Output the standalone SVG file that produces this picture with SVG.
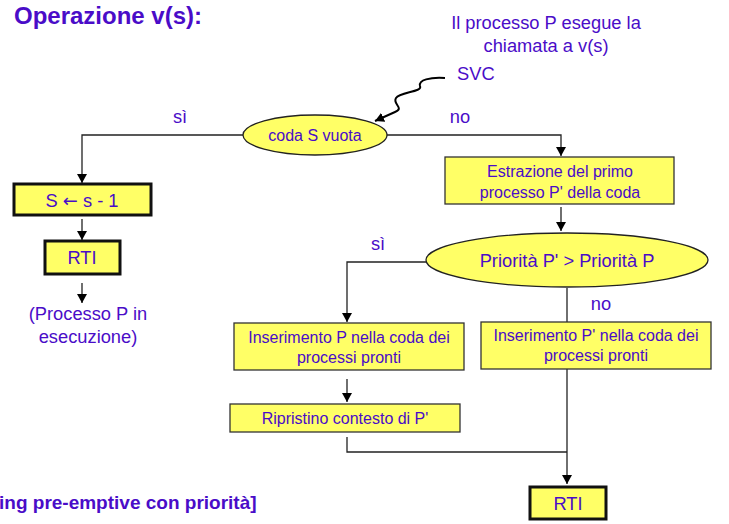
<svg xmlns="http://www.w3.org/2000/svg" width="729" height="524" viewBox="0 0 729 524">
<style>
text{font-family:"Liberation Sans",Arial,sans-serif;fill:#4A0CC8}
.t{font-size:16px;text-anchor:middle}
.m{font-size:18.3px;text-anchor:middle}
.box{fill:#FFFF66;stroke:#333;stroke-width:1.3}
.thick{fill:#FFFF66;stroke:#111;stroke-width:3}
.ell{fill:#FFFF66;stroke:#222;stroke-width:1.3}
.c{fill:none;stroke:#222;stroke-width:1.3}
</style>
<defs>
<marker id="ah" markerWidth="12" markerHeight="10" refX="9" refY="5" orient="auto" markerUnits="userSpaceOnUse">
<path d="M0,0 L9,5 L0,10 Z" fill="#000"/>
</marker>
</defs>
<rect width="729" height="524" fill="#fff"/>
<text x="14" y="24" style="font-size:24px;font-weight:bold">Operazione v(s):</text>
<text class="m" x="546" y="29">Il processo P esegue la</text>
<text class="m" x="546" y="52">chiamata a v(s)</text>
<text x="457" y="80" style="font-size:18.3px">SVC</text>
<text class="m" x="180" y="123">sì</text>
<text class="m" x="460" y="123">no</text>
<text class="m" x="378" y="250">sì</text>
<text class="m" x="601" y="310">no</text>
<text class="m" x="88" y="320">(Processo P in</text>
<text class="m" x="88" y="343">esecuzione)</text>
<text x="-1" y="509" style="font-size:19px;font-weight:bold">ing pre-emptive con priorità]</text>
<g id="connectors">
<path class="c" d="M445,78 C430,77 418,80 420,86 C423,92 400,92 396,98 C392,104 405,108 395,112 L375,121" marker-end="url(#ah)" style="stroke:#000;stroke-width:2"/>
<path class="c" d="M243,135 H82 V183" marker-end="url(#ah)"/>
<path class="c" d="M82,219 V240" marker-end="url(#ah)"/>
<path class="c" d="M82,283 V303" marker-end="url(#ah)"/>
<path class="c" d="M387,135 H561 V156" marker-end="url(#ah)"/>
<path class="c" d="M561,207 V231" marker-end="url(#ah)"/>
<path class="c" d="M426,262 H347 V322" marker-end="url(#ah)"/>
<path class="c" d="M347,379 V402" marker-end="url(#ah)"/>
<path class="c" d="M347,437 V452 H567"/>
<path class="c" d="M567,288 V322"/>
<path class="c" d="M567,369 V484" marker-end="url(#ah)"/>
</g>
<g id="n-coda">
<ellipse class="ell" cx="315" cy="135" rx="72" ry="20"/>
<text class="t" x="315" y="141">coda S vuota</text>
</g>
<g id="n-s">
<rect class="thick" x="14" y="184" width="137" height="31"/>
<text class="m" x="82" y="207">S <tspan style="font-family:'DejaVu Sans',sans-serif;font-size:18px">←</tspan> s - 1</text>
</g>
<g id="n-rti1">
<rect class="thick" x="45" y="241" width="75" height="33"/>
<text class="m" x="82" y="264">RTI</text>
</g>
<g id="n-estr">
<rect class="box" x="445" y="157" width="229" height="47"/>
<text class="t" x="560" y="177">Estrazione del primo</text>
<text class="t" x="560" y="198">processo P' della coda</text>
</g>
<g id="n-prio">
<ellipse class="ell" cx="567" cy="260" rx="141" ry="27"/>
<text class="m" x="567" y="267">Priorità P' &gt; Priorità P</text>
</g>
<g id="n-insP">
<rect class="box" x="234" y="323" width="230" height="47"/>
<text class="t" x="349" y="343">Inserimento P nella coda dei</text>
<text class="t" x="349" y="363">processi pronti</text>
</g>
<g id="n-rip">
<rect class="box" x="230" y="404" width="230" height="28"/>
<text class="t" x="345" y="424">Ripristino contesto di P'</text>
</g>
<g id="n-insP2">
<rect class="box" x="481" y="322" width="230" height="47"/>
<text class="t" x="596" y="341">Inserimento P' nella coda dei</text>
<text class="t" x="596" y="361">processi pronti</text>
</g>
<g id="n-rti2">
<rect class="thick" x="530" y="487" width="76" height="32"/>
<text class="m" x="568" y="510">RTI</text>
</g>
</svg>
